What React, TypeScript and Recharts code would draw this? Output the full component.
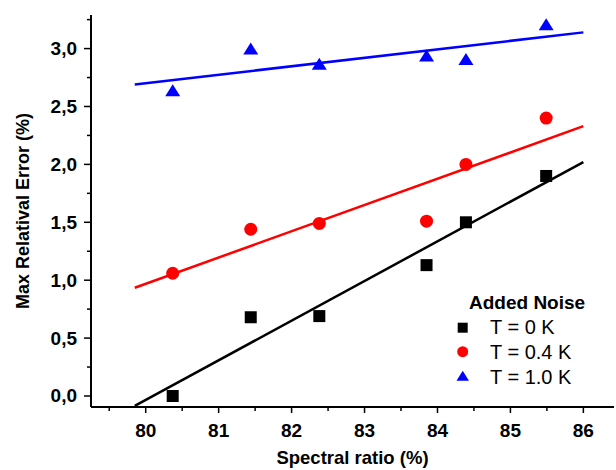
import { ScatterChart, Scatter, XAxis, YAxis, Legend } from 'recharts';

const xValues = [80.37, 81.44, 82.38, 83.85, 84.39, 85.49];
const noise0K = [0.0, 0.68, 0.69, 1.13, 1.5, 1.9];
const noise04K = [1.06, 1.44, 1.49, 1.51, 2.0, 2.4];
const noise10K = [2.64, 3.0, 2.87, 2.94, 2.91, 3.21];

// linear fits: end points of the drawn lines
const fitX = [79.85, 86];
const fit0K = [-0.085, 2.02];
const fit04K = [0.935, 2.33];
const fit10K = [2.69, 3.14];

const xTicks = [79.5, 80, 80.5, 81, 81.5, 82, 82.5, 83, 83.5, 84, 84.5, 85, 85.5, 86];
const yTicks = [0, 0.25, 0.5, 0.75, 1, 1.25, 1.5, 1.75, 2, 2.25, 2.5, 2.75, 3, 3.25];

const FONT = '"Liberation Sans", Arial, sans-serif';

const toPoints = (xs: number[], ys: number[]) => xs.map((x, i) => ({ x, y: ys[i] }));

const series = [
  { name: 'T = 0 K', values: noise0K, fit: fit0K, color: '#000000', shape: 'square' },
  { name: 'T = 0.4 K', values: noise04K, fit: fit04K, color: '#ff0000', shape: 'circle' },
  { name: 'T = 1.0 K', values: noise10K, fit: fit10K, color: '#0000ff', shape: 'triangle' },
];

function marker(shape: string, cx: number, cy: number, s: number, color: string) {
  if (shape === 'square') {
    return <rect x={cx - s / 2} y={cy - s / 2} width={s} height={s} fill={color} />;
  }
  if (shape === 'circle') {
    return <circle cx={cx} cy={cy} r={s / 2 + 0.5} fill={color} />;
  }
  const w = s * 1.25;
  const h = s;
  return (
    <polygon
      points={`${cx},${cy - h / 2} ${cx - w / 2},${cy + h / 2} ${cx + w / 2},${cy + h / 2}`}
      fill={color}
    />
  );
}

const isMajorX = (v: number) => Number.isInteger(v);
const isMajorY = (v: number) => Number.isInteger(v * 2);

const BottomTick = ({ x, y, payload }: any) => {
  const major = isMajorX(payload.value);
  return (
    <g>
      <line x1={x} x2={x} y1={y} y2={y + (major ? 6 : 4)} stroke="#000" strokeWidth={1.5} />
      {major && (
        <text x={x} y={y + 30} textAnchor="middle" fontSize={19} fontWeight="bold" fontFamily={FONT} fill="#000">
          {payload.value}
        </text>
      )}
    </g>
  );
};

const TopTick = ({ x, y, payload }: any) => {
  const major = isMajorX(payload.value);
  return <line x1={x} x2={x} y1={y} y2={y + (major ? 6 : 4)} stroke="#000" strokeWidth={1.5} />;
};

const LeftTick = ({ x, y, payload }: any) => {
  const major = isMajorY(payload.value);
  return (
    <g>
      <line x1={x - (major ? 7 : 4)} x2={x} y1={y} y2={y} stroke="#000" strokeWidth={1.5} />
      {major && (
        <text x={x - 14} y={y + 6.5} textAnchor="end" fontSize={19} fontWeight="bold" fontFamily={FONT} fill="#000">
          {payload.value.toFixed(1).replace('.', ',')}
        </text>
      )}
    </g>
  );
};

const RightTick = ({ x, y, payload }: any) => {
  const major = isMajorY(payload.value);
  return <line x1={x - (major ? 7 : 4)} x2={x} y1={y} y2={y} stroke="#000" strokeWidth={1.5} />;
};

const renderLegend = () => (
  <svg width={150} height={100} style={{ fontFamily: FONT, display: 'block' }}>
    <text x={19} y={19} fontSize={19} fontWeight="bold" fill="#000">Added Noise</text>
    {series.map((s, i) => (
      <g key={s.name}>
        {marker(s.shape, 12.7, 37.7 + 24 * i, 10, s.color)}
        <text x={40} y={44.3 + 25 * i} fontSize={20} fill="#000">{s.name}</text>
      </g>
    ))}
  </svg>
);

const axisLine = { stroke: '#000', strokeWidth: 2 };
const xDomain = [79.25, 86.42];
const yDomain = [-0.095, 3.29];

export default function App() {
  return (
    <div style={{ position: 'absolute', left: 0, top: 0, background: '#fff' }}>
      <ScatterChart width={616} height={470} margin={{ top: 15, right: 2, bottom: 0, left: 0 }}>
        <XAxis
          dataKey="x"
          type="number"
          domain={xDomain}
          allowDataOverflow
          ticks={xTicks}
          interval={0}
          height={63}
          axisLine={axisLine}
          tickLine={false}
          tickSize={0}
          tickMargin={0}
          tick={<BottomTick />}
          label={{
            content: ({ viewBox }: any) => (
              <text
                x={viewBox.x + viewBox.width / 2}
                y={viewBox.y + 57}
                textAnchor="middle"
                fontSize={18.5}
                fontWeight="bold"
                fontFamily={FONT}
                fill="#000"
              >
                Spectral ratio (%)
              </text>
            ),
          }}
        />
        <XAxis
          xAxisId="top"
          orientation="top"
          type="number"
          domain={xDomain}
          allowDataOverflow
          ticks={xTicks}
          interval={0}
          height={0}
          axisLine={axisLine}
          tickLine={false}
          tickSize={0}
          tickMargin={0}
          tick={<TopTick />}
        />
        <YAxis
          dataKey="y"
          type="number"
          domain={yDomain}
          allowDataOverflow
          ticks={yTicks}
          interval={0}
          width={91}
          axisLine={axisLine}
          tickLine={false}
          tickSize={0}
          tickMargin={0}
          tick={<LeftTick />}
          label={{
            content: ({ viewBox }: any) => {
              const cy = viewBox.y + viewBox.height / 2;
              return (
                <text
                  x={29}
                  y={cy}
                  transform={`rotate(-90, 29, ${cy})`}
                  textAnchor="middle"
                  fontSize={18}
                  fontWeight="bold"
                  fontFamily={FONT}
                  fill="#000"
                >
                  Max Relatival Error (%)
                </text>
              );
            },
          }}
        />
        <YAxis
          yAxisId="right"
          orientation="right"
          type="number"
          domain={yDomain}
          allowDataOverflow
          ticks={yTicks}
          interval={0}
          width={0}
          axisLine={axisLine}
          tickLine={false}
          tickSize={0}
          tickMargin={0}
          tick={<RightTick />}
        />
        <Legend
          layout="vertical"
          align="center"
          verticalAlign="middle"
          content={renderLegend}
          wrapperStyle={{ left: 450, top: 290, width: 150, height: 100 }}
        />
        {series.map((s) => (
          <Scatter
            key={`fit-${s.name}`}
            data={toPoints(fitX, s.fit)}
            line={{ stroke: s.color, strokeWidth: 2.5 }}
            shape={() => <g />}
            legendType="none"
            isAnimationActive={false}
          />
        ))}
        {series.map((s) => (
          <Scatter
            key={s.name}
            name={s.name}
            data={toPoints(xValues, s.values)}
            fill={s.color}
            shape={(p: any) => marker(s.shape, p.cx, p.cy, 12, s.color)}
            isAnimationActive={false}
          />
        ))}
      </ScatterChart>
    </div>
  );
}
